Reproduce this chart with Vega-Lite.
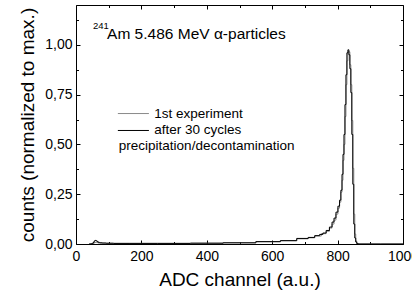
{
  "$schema": "https://vega.github.io/schema/vega-lite/v6.json",
  "width": 327,
  "height": 239,
  "autosize": "none",
  "padding": {"left": 76, "top": 5, "right": 9, "bottom": 52},
  "config": {
    "font": "Liberation Sans",
    "view": {"stroke": null},
    "axis": {"domainColor": "#000", "tickColor": "#000", "labelColor": "#000", "titleColor": "#000", "labelFont": "Liberation Sans", "titleFont": "Liberation Sans", "labelFontSize": 14, "titleFontSize": 19, "titleFontWeight": "normal", "grid": false}
  },
  "datasets": {
    "spec": [
      {"ch": 40, "v": 0, "s": "1st experiment"},
      {"ch": 50, "v": 0.001, "s": "1st experiment"},
      {"ch": 55, "v": 0.005, "s": "1st experiment"},
      {"ch": 60, "v": 0.008, "s": "1st experiment"},
      {"ch": 65, "v": 0.007, "s": "1st experiment"},
      {"ch": 70, "v": 0.005, "s": "1st experiment"},
      {"ch": 80, "v": 0.004, "s": "1st experiment"},
      {"ch": 100, "v": 0.003, "s": "1st experiment"},
      {"ch": 200, "v": 0.003, "s": "1st experiment"},
      {"ch": 300, "v": 0.003, "s": "1st experiment"},
      {"ch": 400, "v": 0.004, "s": "1st experiment"},
      {"ch": 500, "v": 0.006, "s": "1st experiment"},
      {"ch": 600, "v": 0.011, "s": "1st experiment"},
      {"ch": 650, "v": 0.016, "s": "1st experiment"},
      {"ch": 700, "v": 0.026, "s": "1st experiment"},
      {"ch": 720, "v": 0.031, "s": "1st experiment"},
      {"ch": 740, "v": 0.04, "s": "1st experiment"},
      {"ch": 760, "v": 0.052, "s": "1st experiment"},
      {"ch": 770, "v": 0.064, "s": "1st experiment"},
      {"ch": 780, "v": 0.08, "s": "1st experiment"},
      {"ch": 786, "v": 0.1, "s": "1st experiment"},
      {"ch": 792, "v": 0.12, "s": "1st experiment"},
      {"ch": 798, "v": 0.15, "s": "1st experiment"},
      {"ch": 804, "v": 0.18, "s": "1st experiment"},
      {"ch": 808, "v": 0.21, "s": "1st experiment"},
      {"ch": 812, "v": 0.26, "s": "1st experiment"},
      {"ch": 815, "v": 0.32, "s": "1st experiment"},
      {"ch": 818, "v": 0.42, "s": "1st experiment"},
      {"ch": 821, "v": 0.5, "s": "1st experiment"},
      {"ch": 824, "v": 0.64, "s": "1st experiment"},
      {"ch": 827, "v": 0.8, "s": "1st experiment"},
      {"ch": 830, "v": 0.92, "s": "1st experiment"},
      {"ch": 833, "v": 0.965, "s": "1st experiment"},
      {"ch": 836, "v": 0.965, "s": "1st experiment"},
      {"ch": 839, "v": 0.9, "s": "1st experiment"},
      {"ch": 842, "v": 0.8, "s": "1st experiment"},
      {"ch": 845, "v": 0.62, "s": "1st experiment"},
      {"ch": 848, "v": 0.38, "s": "1st experiment"},
      {"ch": 851, "v": 0.15, "s": "1st experiment"},
      {"ch": 854, "v": 0.05, "s": "1st experiment"},
      {"ch": 857, "v": 0.015, "s": "1st experiment"},
      {"ch": 860, "v": 0.004, "s": "1st experiment"},
      {"ch": 864, "v": 0.001, "s": "1st experiment"},
      {"ch": 868, "v": 0, "s": "1st experiment"},
      {"ch": 1000, "v": 0, "s": "1st experiment"},
      {"ch": 40, "v": 0, "s": "after 30 cycles"},
      {"ch": 50, "v": 0.001, "s": "after 30 cycles"},
      {"ch": 54, "v": 0.008, "s": "after 30 cycles"},
      {"ch": 57, "v": 0.015, "s": "after 30 cycles"},
      {"ch": 60, "v": 0.018, "s": "after 30 cycles"},
      {"ch": 63, "v": 0.016, "s": "after 30 cycles"},
      {"ch": 66, "v": 0.012, "s": "after 30 cycles"},
      {"ch": 70, "v": 0.008, "s": "after 30 cycles"},
      {"ch": 75, "v": 0.006, "s": "after 30 cycles"},
      {"ch": 85, "v": 0.005, "s": "after 30 cycles"},
      {"ch": 100, "v": 0.004, "s": "after 30 cycles"},
      {"ch": 130, "v": 0.003, "s": "after 30 cycles"},
      {"ch": 200, "v": 0.003, "s": "after 30 cycles"},
      {"ch": 300, "v": 0.003, "s": "after 30 cycles"},
      {"ch": 400, "v": 0.004, "s": "after 30 cycles"},
      {"ch": 500, "v": 0.006, "s": "after 30 cycles"},
      {"ch": 600, "v": 0.012, "s": "after 30 cycles"},
      {"ch": 650, "v": 0.017, "s": "after 30 cycles"},
      {"ch": 700, "v": 0.028, "s": "after 30 cycles"},
      {"ch": 720, "v": 0.033, "s": "after 30 cycles"},
      {"ch": 740, "v": 0.042, "s": "after 30 cycles"},
      {"ch": 750, "v": 0.048, "s": "after 30 cycles"},
      {"ch": 760, "v": 0.055, "s": "after 30 cycles"},
      {"ch": 770, "v": 0.068, "s": "after 30 cycles"},
      {"ch": 780, "v": 0.085, "s": "after 30 cycles"},
      {"ch": 786, "v": 0.11, "s": "after 30 cycles"},
      {"ch": 792, "v": 0.13, "s": "after 30 cycles"},
      {"ch": 798, "v": 0.16, "s": "after 30 cycles"},
      {"ch": 804, "v": 0.19, "s": "after 30 cycles"},
      {"ch": 808, "v": 0.22, "s": "after 30 cycles"},
      {"ch": 812, "v": 0.27, "s": "after 30 cycles"},
      {"ch": 815, "v": 0.35, "s": "after 30 cycles"},
      {"ch": 818, "v": 0.45, "s": "after 30 cycles"},
      {"ch": 821, "v": 0.55, "s": "after 30 cycles"},
      {"ch": 824, "v": 0.7, "s": "after 30 cycles"},
      {"ch": 827, "v": 0.85, "s": "after 30 cycles"},
      {"ch": 830, "v": 0.96, "s": "after 30 cycles"},
      {"ch": 833, "v": 0.975, "s": "after 30 cycles"},
      {"ch": 836, "v": 0.95, "s": "after 30 cycles"},
      {"ch": 839, "v": 0.88, "s": "after 30 cycles"},
      {"ch": 842, "v": 0.76, "s": "after 30 cycles"},
      {"ch": 845, "v": 0.55, "s": "after 30 cycles"},
      {"ch": 848, "v": 0.3, "s": "after 30 cycles"},
      {"ch": 851, "v": 0.1, "s": "after 30 cycles"},
      {"ch": 854, "v": 0.03, "s": "after 30 cycles"},
      {"ch": 857, "v": 0.01, "s": "after 30 cycles"},
      {"ch": 860, "v": 0.002, "s": "after 30 cycles"},
      {"ch": 864, "v": 0, "s": "after 30 cycles"},
      {"ch": 1000, "v": 0, "s": "after 30 cycles"}
    ]
  },
  "layer": [
    {
      "data": {"name": "spec"},
      "mark": {"type": "line", "interpolate": "step", "strokeWidth": 1, "clip": true},
      "encoding": {
        "x": {"field": "ch", "type": "quantitative", "scale": {"domain": [0, 1000], "nice": false, "zero": false},
          "axis": {"orient": "bottom", "title": "ADC channel (a.u.)", "values": [0,100,200,300,400,500,600,700,800,900,1000],
            "labelExpr": "datum.value % 200 == 0 ? format(datum.value, 'd') : ''",
            "tickSize": {"condition": {"test": "datum.value % 200 == 0", "value": -4}, "value": -2.5},
            "labelPadding": 9, "titlePadding": 6, "labelFlush": false, "labelOverlap": false}},
        "y": {"field": "v", "type": "quantitative", "scale": {"domain": [0, 1.2], "nice": false},
          "axis": {"orient": "left", "title": "counts (normalized to max.)", "values": [0,0.125,0.25,0.375,0.5,0.625,0.75,0.875,1,1.125],
            "labelExpr": "(datum.value * 1000) % 250 == 0 ? replace(format(datum.value, '.2f'), '.', ',') : ''",
            "tickSize": {"condition": {"test": "(datum.value * 1000) % 250 == 0", "value": -4}, "value": -2.5},
            "labelPadding": 8, "titlePadding": 7, "labelFlush": false, "labelOverlap": false}},
        "color": {"field": "s", "type": "nominal", "scale": {"domain": ["1st experiment", "after 30 cycles"], "range": ["#8a8a8a", "#000000"]}, "legend": null}
      }
    },
    {
      "data": {"values": [{"ch": 0, "v": 0}]},
      "mark": {"type": "point", "opacity": 0},
      "encoding": {
        "x": {"field": "ch", "type": "quantitative",
          "axis": {"orient": "top", "title": null, "labels": false, "values": [0,100,200,300,400,500,600,700,800,900,1000],
            "tickSize": {"condition": {"test": "datum.value % 200 == 0", "value": -4}, "value": -2.5}}},
        "y": {"field": "v", "type": "quantitative",
          "axis": {"orient": "right", "title": null, "labels": false, "values": [0,0.125,0.25,0.375,0.5,0.625,0.75,0.875,1,1.125],
            "tickSize": {"condition": {"test": "(datum.value * 1000) % 250 == 0", "value": -4}, "value": -2.5}}}
      }
    },
    {
      "data": {"values": [
        {"ch": 128, "ch2": 223, "v": 0.655, "s": "1st experiment"},
        {"ch": 128, "ch2": 223, "v": 0.57, "s": "after 30 cycles"}
      ]},
      "mark": {"type": "rule", "strokeWidth": 1},
      "encoding": {
        "x": {"field": "ch", "type": "quantitative", "axis": null},
        "x2": {"field": "ch2"},
        "y": {"field": "v", "type": "quantitative", "axis": null},
        "color": {"field": "s", "type": "nominal", "legend": null}
      }
    },
    {
      "data": {"values": [
        {"ch": 239, "v": 0.655, "t": "1st experiment"},
        {"ch": 239, "v": 0.57, "t": "after 30 cycles"},
        {"ch": 131, "v": 0.49, "t": "precipitation/decontamination"}
      ]},
      "mark": {"type": "text", "align": "left", "baseline": "middle", "fontSize": 13.5, "font": "Liberation Sans", "color": "#000"},
      "encoding": {"x": {"field": "ch", "type": "quantitative", "axis": null}, "y": {"field": "v", "type": "quantitative", "axis": null}, "text": {"field": "t"}}
    },
    {
      "data": {"values": [{"ch": 95, "v": 1.055, "t": "Am 5.486 MeV α-particles"}]},
      "mark": {"type": "text", "align": "left", "baseline": "middle", "fontSize": 15.5, "font": "Liberation Sans", "color": "#000"},
      "encoding": {"x": {"field": "ch", "type": "quantitative", "axis": null}, "y": {"field": "v", "type": "quantitative", "axis": null}, "text": {"field": "t"}}
    },
    {
      "data": {"values": [{"ch": 52, "v": 1.095, "t": "241"}]},
      "mark": {"type": "text", "align": "left", "baseline": "middle", "fontSize": 9.5, "font": "Liberation Sans", "color": "#000"},
      "encoding": {"x": {"field": "ch", "type": "quantitative", "axis": null}, "y": {"field": "v", "type": "quantitative", "axis": null}, "text": {"field": "t"}}
    }
  ],
  "resolve": {"axis": {"x": "independent", "y": "independent"}}
}
